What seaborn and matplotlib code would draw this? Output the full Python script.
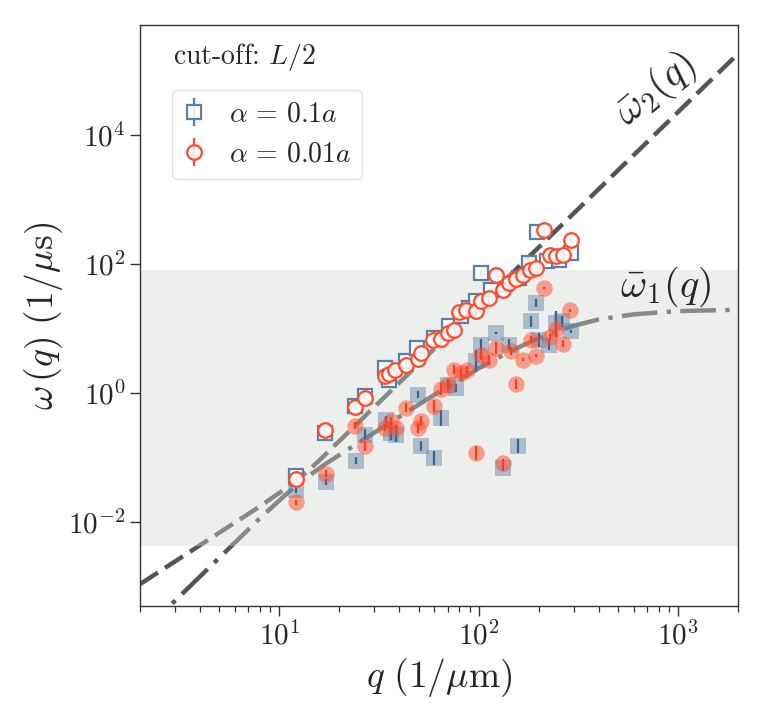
import numpy as np
import pandas as pd
import seaborn as sns
import matplotlib
matplotlib.use("Agg")
import matplotlib.pyplot as plt
from matplotlib.ticker import NullLocator

# --- dados ---
# ramo superior (marcadores abertos)
q_sq_up = [12.1, 17.0, 24.0, 27.0, 34.0, 35.6, 43.1, 49.3, 59.8, 71.2, 81.4, 89.6,
           96.8, 103, 115, 135, 160, 179, 197, 221, 253, 290]
w_sq_up = [0.0525, 0.240, 0.621, 0.886, 2.44, 1.61, 3.08, 4.98, 7.10, 10.7, 15.3, 20.7,
           26.2, 72.0, 39.7, 48.0, 60.6, 103, 306, 109, 116, 147]

q_ci_up = [12.1, 17.0, 24.0, 27.0, 34.0, 35.6, 38.1, 43.1, 49.8, 51.2, 59.0, 64.4,
           69.8, 75.5, 80.0, 86.7, 96.8, 103, 113, 122, 132, 142, 154, 167, 180,
           194, 213, 229, 243, 265, 289]
w_ci_up = [0.0466, 0.264, 0.607, 0.837, 1.81, 1.97, 2.30, 2.74, 3.36, 4.16, 6.68, 6.85,
           8.49, 9.55, 17.7, 19.5, 18.3, 26.2, 29.6, 67.8, 38.7, 50.5, 58.2, 67.8, 81.1,
           85.5, 337, 138, 133, 138, 236]

# ramo inferior (marcadores cheios), erro em decadas
q_sq_lo = [12.1, 17.1, 24.2, 27.0, 34.2, 36.2, 38.5, 49.4, 51.2, 59.8, 64.4, 69.8,
           76.9, 96.8, 103, 122, 142, 157, 132, 182, 193, 201, 225, 244, 263, 290]
w_sq_lo = [0.0318, 0.0413, 0.0895, 0.226, 0.386, 0.243, 0.226, 0.942, 0.149, 0.0986,
           0.41, 1.34, 1.19, 3.08, 5.59, 8.49, 5.59, 0.149, 0.069, 12.8, 24.7, 6.69,
           5.59, 12.1, 12.8, 8.99]
e_sq_lo = [0.05, 0.05, 0.06, 0.08, 0.05, 0.12, 0.11, 0.06, 0.08, 0.11, 0.12, 0.09,
           0.06, 0.17, 0.09, 0.02, 0.08, 0.11, 0.05, 0.08, 0.06, 0.11, 0.09, 0.19,
           0.09, 0.02]

q_ci_lo = [12.1, 17.1, 24.0, 27.0, 34.0, 36.2, 38.4, 43.1, 49.4, 51.2, 59.8, 64.6,
           69.8, 75.4, 81.4, 87.9, 103, 113, 122, 145, 154, 167, 182, 194, 227, 244,
           265, 286, 96.8, 132, 213]
w_ci_lo = [0.0203, 0.0563, 0.312, 0.149, 0.290, 0.363, 0.287, 0.586, 0.287, 0.363,
           0.621, 1.15, 1.34, 2.30, 2.04, 2.24, 3.92, 3.20, 4.97, 4.41, 1.39, 3.28,
           6.69, 3.78, 7.36, 9.79, 5.80, 19.0, 0.118, 0.0824, 42.2]
e_ci_lo = [0.04, 0.05, 0.06, 0.07, 0.05, 0.06, 0.05, 0.07, 0.08, 0.08, 0.09, 0.09,
           0.07, 0.07, 0.06, 0.06, 0.09, 0.08, 0.09, 0.06, 0.08, 0.02, 0.05, 0.02,
           0.04, 0.12, 0.06, 0.02, 0.11, 0.06, 0.02]

# curvas teoricas (pontos lidos ao longo das linhas)
q_w2 = [2, 8, 11, 12.5, 14, 16, 2000]
w_w2 = [1.09e-3, 0.0175, 0.0347, 0.0468, 0.0631, 0.0922, 1.79e5]
q_w1 = [2, 8, 11, 12.5, 14, 17, 30, 60, 100, 150, 200, 300, 400, 600, 1000, 2000]
w_w1 = [1.79e-4, 0.01146, 0.0282, 0.0398, 0.0513, 0.079, 0.243, 0.937, 2.40, 4.69,
        7.05, 10.97, 13.7, 16.5, 18.5, 19.4]

banda = (0.0042, 81)

azul = '#5b7fa6'
vermelho = '#ff4b2b'

sns.set_style('ticks')
plt.rcParams['font.family'] = ['cmr10', 'DejaVu Serif']
plt.rcParams['mathtext.fontset'] = 'cm'
plt.rcParams['axes.formatter.use_mathtext'] = True
plt.rcParams['axes.unicode_minus'] = False

fig = plt.figure(figsize=(7.64, 7.26), dpi=100)
ax = fig.add_axes([0.18325, 0.16529, 0.78272, 0.80028])
ax.set_xscale('log')
ax.set_yscale('log')

# linhas
sns.lineplot(x=q_w2, y=w_w2, ax=ax, color='#555555', lw=3.2, sort=False, estimator=None, zorder=1)
ax.lines[-1].set_dashes([4.8, 1.9])
sns.lineplot(x=q_w1, y=w_w1, ax=ax, color='#555555', lw=3.2, sort=False, estimator=None, zorder=1)
ax.lines[-1].set_dashes([8, 2.1, 1.0, 2.1])

ax.axhspan(banda[0], banda[1], color='#d4d9d4', alpha=0.4, lw=0, zorder=2)


def barras(w, e):
    w = np.array(w)
    e = np.array(e)
    return [w - w / 10**e, w * 10**e - w]


# ramo inferior
sns.scatterplot(x=q_sq_lo, y=w_sq_lo, ax=ax, marker='s', s=140, color=azul, alpha=0.45,
                linewidth=0, zorder=3)
ax.errorbar(q_sq_lo, w_sq_lo, yerr=barras(w_sq_lo, e_sq_lo), fmt='none', ecolor='#3b6591',
            elinewidth=1.6, zorder=3.5)
sns.scatterplot(x=q_ci_lo, y=w_ci_lo, ax=ax, marker='o', s=140, color=vermelho, alpha=0.5,
                linewidth=0, zorder=4)
ax.errorbar(q_ci_lo, w_ci_lo, yerr=barras(w_ci_lo, e_ci_lo), fmt='none', ecolor='#ff3c1a',
            elinewidth=1.6, zorder=4.5)

# ramo superior
ax.errorbar(q_sq_up, w_sq_up, yerr=barras(w_sq_up, [0.04] * len(w_sq_up)), fmt='s', ms=10.5,
            mfc=(1, 1, 1, 0.85), mec=azul, mew=1.6, ecolor=azul, elinewidth=1.6,
            zorder=5, label=r'$\alpha\,=\,0.1a$')
ax.errorbar(q_ci_up, w_ci_up, yerr=barras(w_ci_up, [0.04] * len(w_ci_up)), fmt='o', ms=10.5,
            mfc=(1, 1, 1, 0.85), mec=vermelho, mew=1.6, ecolor=vermelho, elinewidth=1.6,
            zorder=6, label=r'$\alpha\,=\,0.01a$')

ax.text(770, 5.0e4, r'$\bar{\omega}_2(q)$', fontsize=29, rotation=40, ha='center',
        va='center', rotation_mode='anchor', zorder=7)
ax.text(861, 44.2, r'$\bar{\omega}_1(q)$', fontsize=29, ha='center', va='center', zorder=7)

ax.text(0.055, 0.945, 'cut-off: $L/2$', transform=ax.transAxes, fontsize=20, va='center')

ax.legend(loc='upper left', bbox_to_anchor=(0.0535, 0.888), fontsize=20, handlelength=0.8,
          handletextpad=0.85, borderpad=0.4, borderaxespad=0, edgecolor='#dddddd',
          fancybox=True)

ax.set_xlim(2, 2000)
ax.set_ylim(5e-4, 5e5)
ax.set_yticks([1e-2, 1, 1e2, 1e4])
ax.yaxis.set_minor_locator(NullLocator())
ax.tick_params(axis='both', which='major', labelsize=21, length=7, width=1, color='#333333')
ax.tick_params(axis='x', which='minor', length=4, width=0.9, color='#333333')
for s in ax.spines.values():
    s.set_color('#333333')
    s.set_linewidth(1)

ax.set_xlabel(r'$q\ (1/\mu\mathrm{m})$', fontsize=27)
ax.set_ylabel(r'$\omega\,(q)\ (1/\mu\mathrm{s})$', fontsize=27, labelpad=2)

plt.savefig('out.png', dpi=100)
